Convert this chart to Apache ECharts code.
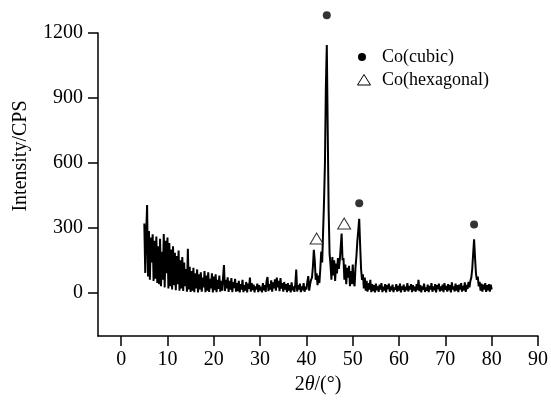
<!DOCTYPE html>
<html>
<head>
<meta charset="utf-8">
<script src="https://cdn.jsdelivr.net/npm/echarts@6/dist/echarts.min.js"></script>
<style>
html,body{margin:0;padding:0;background:#fff;}
#chart{width:551px;height:400px;}
</style>
</head>
<body>
<div id="chart"></div>
<script>
// 2θ sampling grid (degrees)
const angleStart = 5;
const angleStep = 0.2;

const intensity = [
  // 5.0 - 15.0
  320,92,270,405,75,285,60,255,140,270,
  55,240,65,260,45,215,40,250,30,190,
  60,272,25,240,90,255,20,230,30,200,
  15,215,35,185,12,170,40,195,10,150,
  20,165,8,140,30,110,5,203,15,120,
  4,
  // 15.2 - 25.0
  100,10,115,3,90,20,108,2,85,15,
  95,5,70,25,100,3,80,10,95,4,
  65,20,90,2,75,12,85,3,60,18,
  80,5,55,10,70,128,8,60,20,72,
  4,55,15,68,3,50,22,65,5,45,
  // 25.2 - 35.0
  8,55,2,40,15,60,3,35,10,50,
  2,42,18,70,5,45,12,38,2,30,
  15,42,3,35,10,28,2,45,12,35,
  4,55,73,8,40,15,58,5,48,20,
  62,10,70,25,55,8,68,20,45,5,
  // 35.2 - 41.0
  50,15,40,3,45,10,35,2,48,12,
  30,4,38,107,6,35,15,42,3,30,
  12,45,5,28,15,50,77,10,40,60,
  // 41.2 - 54.0
  70,120,199,150,60,90,35,80,45,110,
  190,140,280,420,600,950,1145,750,380,180,
  130,60,165,80,150,55,135,90,160,110,
  150,210,274,150,160,60,130,40,115,70,
  125,30,100,40,130,50,30,120,170,240,
  290,342,220,110,60,85,20,70,10,55,
  5,45,15,60,3,
  // 54.2 - 80.0
  40,8,35,2,42,12,30,4,38,15,
  45,3,28,10,40,2,35,18,42,5,
  30,12,38,3,25,15,40,5,32,10,
  42,2,30,14,38,4,28,12,45,6,
  32,15,40,3,35,10,28,5,40,12,
  60,8,35,2,30,14,42,4,25,10,
  38,3,32,15,45,5,30,12,40,2,
  35,18,42,6,30,10,38,3,45,14,
  32,5,40,12,35,2,48,15,30,6,
  42,10,35,3,38,15,45,5,32,12,
  48,4,36,18,50,25,55,70,110,180,
  247,165,90,60,75,30,50,10,42,5,
  38,15,45,4,35,12,40,6,38,15
];

// Phase markers [2θ, intensity]
const cubicMarks = [[44.4, 1282], [51.4, 414], [76.2, 315]];
const hexMarks = [[42.2, 251], [48.15, 320]];

// Axis ticks
const xTicks = [0, 10, 20, 30, 40, 50, 60, 70, 80, 90];
const yTicks = [0, 300, 600, 900, 1200];

const seriesNames = ['Co(cubic)', 'Co(hexagonal)'];

const pattern = intensity.map((v, i) => [Math.round((angleStart + i * angleStep) * 10) / 10, v]);

const FONT = 'Liberation Serif';
const chart = echarts.init(document.getElementById('chart'), null, {renderer: 'canvas'});

chart.setOption({
  animation: false,
  backgroundColor: '#fff',
  grid: {left: 98, right: 10, top: 33, bottom: 59, containLabel: false},
  xAxis: {
    type: 'value', min: -5, max: 90,
    name: '2{i|θ}/(°)',
    nameLocation: 'middle', nameGap: 33,
    nameTextStyle: {
      fontFamily: FONT, fontSize: 20, color: '#000',
      rich: {i: {fontFamily: FONT, fontSize: 20, fontStyle: 'italic', color: '#000'}}
    },
    axisLine: {onZero: false, lineStyle: {color: '#000', width: 1.5}},
    axisTick: {show: true, length: 10, inside: false, customValues: xTicks, lineStyle: {color: '#000', width: 1.5}},
    axisLabel: {customValues: xTicks, margin: 14, fontFamily: FONT, fontSize: 20, color: '#000',
      formatter: v => String(v)},
    splitLine: {show: false}
  },
  yAxis: {
    type: 'value', min: -200, max: 1200,
    axisLine: {show: true, onZero: false, lineStyle: {color: '#000', width: 1.5}},
    axisTick: {show: true, length: 10, inside: false, customValues: yTicks, lineStyle: {color: '#000', width: 1.5}},
    axisLabel: {customValues: yTicks, margin: 15, fontFamily: FONT, fontSize: 20, color: '#000',
      formatter: v => String(v)},
    splitLine: {show: false}
  },
  graphic: [
    {type: 'text', x: 21, y: 156, rotation: Math.PI / 2,
     style: {text: 'Intensity/CPS', fontFamily: FONT, fontSize: 20, fill: '#000', align: 'center', verticalAlign: 'middle'}},
    {type: 'circle', shape: {cx: 362, cy: 57, r: 4}, style: {fill: '#000'}},
    {type: 'text', x: 382, y: 57, style: {text: seriesNames[0], fontFamily: FONT, fontSize: 18, fill: '#000', verticalAlign: 'middle'}},
    {type: 'polygon', shape: {points: [[364, 74.5], [357.5, 85], [370.5, 85]]}, style: {fill: '#fff', stroke: '#000', lineWidth: 1}},
    {type: 'text', x: 382, y: 80, style: {text: seriesNames[1], fontFamily: FONT, fontSize: 18, fill: '#000', verticalAlign: 'middle'}}
  ],
  series: [
    {
      type: 'line', data: pattern, showSymbol: false, symbol: 'none',
      lineStyle: {color: '#000', width: 2}, z: 2
    },
    {
      name: seriesNames[0], type: 'scatter', data: cubicMarks, clip: false,
      symbol: 'circle', symbolSize: 8, itemStyle: {color: '#000'}, z: 3
    },
    {
      name: seriesNames[1], type: 'scatter', data: hexMarks, clip: false,
      symbol: 'triangle', symbolSize: [13, 11],
      itemStyle: {color: '#fff', borderColor: '#000', borderWidth: 1}, z: 3
    }
  ]
});
</script>
</body>
</html>
